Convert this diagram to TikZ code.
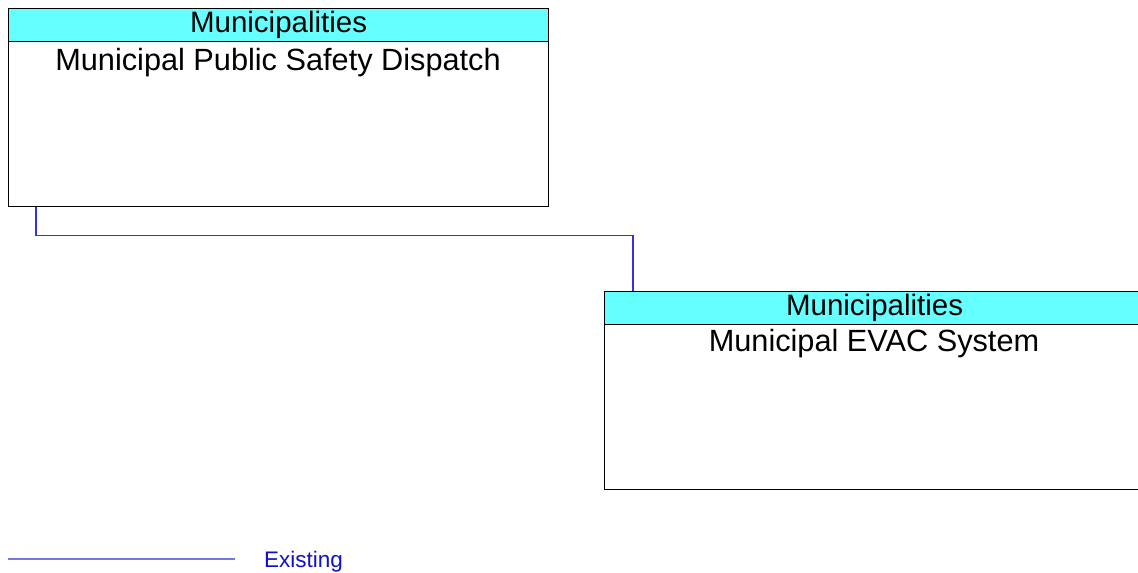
\documentclass[tikz,border=0pt]{standalone}
\usepackage{fontspec}
\setmainfont{Liberation Sans}
\definecolor{hdrcyan}{HTML}{66FFFF}
\definecolor{connblue}{HTML}{3333DD}
\definecolor{legline}{HTML}{7777DD}
\definecolor{legtext}{HTML}{1111CC}
\tikzset{
  boxbody/.style={draw=black, line width=1.2pt, fill=white, rectangle, minimum width=540pt, minimum height=198pt, anchor=north west, inner sep=0pt},
  boxhdr/.style={draw=black, line width=1.2pt, fill=hdrcyan, rectangle, minimum width=540pt, minimum height=33pt, anchor=north west, inner sep=0pt, font=\fontsize{29.5}{30}\selectfont},
  bodytext/.style={anchor=base, inner sep=0pt, font=\fontsize{30.7}{31}\selectfont},
  conn/.style={draw=connblue, line width=1.3pt},
  legl/.style={draw=legline, line width=1.3pt},
  legt/.style={anchor=base west, inner sep=0pt, text=legtext, font=\fontsize{22.5}{24}\selectfont}
}
\begin{document}
\begin{tikzpicture}[x=1pt,y=-1pt]
\useasboundingbox (0,0) rectangle (1138,573);
% box 1
\node[boxbody] (d) at (8,8) {};
\node[boxhdr] (dh) at (8,8) {Municipalities};
\node[bodytext] (dt) at (278,70) {Municipal Public Safety Dispatch};
% box 2
\node[boxbody] (e) at (604,291) {};
\node[boxhdr] (eh) at (604,291) {Municipalities};
\node[bodytext] (et) at (874,351) {Municipal EVAC System};
% connector
\draw[conn] ([xshift=28pt]d.south west) -- ++(0,28) -| ([xshift=29pt]eh.north west);
% legend
\coordinate (l1) at (8,559);
\coordinate (l2) at (235,559);
\draw[legl] (l1) -- (l2);
\node[legt] (lt) at (264,567) {Existing};
\end{tikzpicture}
\end{document}
